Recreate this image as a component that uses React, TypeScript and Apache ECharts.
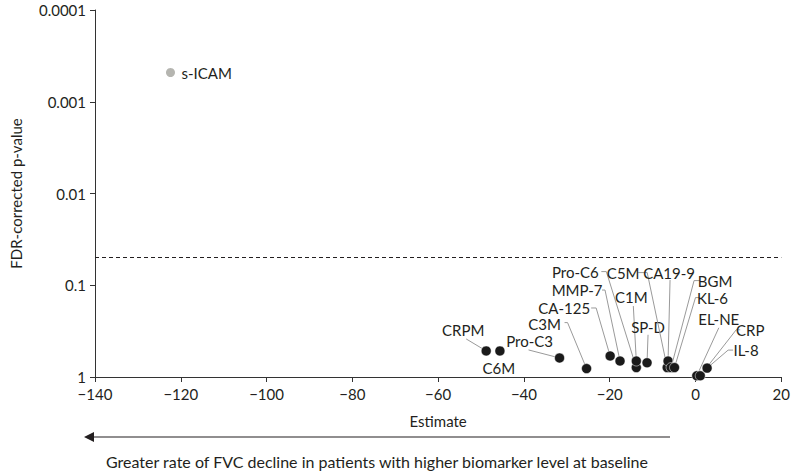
import React, { useEffect, useRef } from "react";
import * as echarts from "echarts";

const biomarkers = ["s-ICAM", "CRPM", "C6M", "Pro-C3", "C3M", "CA-125", "MMP-7", "Pro-C6", "C1M", "SP-D", "C5M", "CA19-9", "BGM", "KL-6", "EL-NE", "CRP", "IL-8"];
const estimates = [-122.4, -48.8, -45.6, -31.7, -25.4, -19.9, -17.6, -13.8, -13.8, -11.3, -6.6, -6.4, -5.7, -4.9, 0.3, 1.1, 2.7];
const pValues = [0.00048, 0.52, 0.52, 0.62, 0.81, 0.59, 0.67, 0.79, 0.67, 0.7, 0.79, 0.67, 0.79, 0.79, 0.97, 0.97, 0.8];
const significance = 0.05;
const xTicks = { min: -140, max: 20, interval: 20 };
const yTickLabels = ["0.0001", "0.001", "0.01", "0.1", "1"];

// label placement: text offset from the point (px) and leader line waypoints (px)
const labelLayout: Record<string, { dx: number; dy: number; align: string; line: number[][] }> = {
  "s-ICAM": { dx: 11, dy: 0, align: "left", line: [] },
  CRPM: { dx: -23, dy: -21, align: "center", line: [[-20, -12]] },
  C6M: { dx: -1, dy: 17, align: "center", line: [] },
  "Pro-C3": { dx: -30, dy: -17, align: "center", line: [[-31, -8]] },
  C3M: { dx: -42, dy: -45, align: "center", line: [[-22, -46], [-19, -46]] },
  "CA-125": { dx: -46, dy: -48, align: "center", line: [[-19, -48], [-14, -48]] },
  "MMP-7": { dx: -43, dy: -71, align: "center", line: [[-18, -71], [-15, -71]] },
  "Pro-C6": { dx: -61, dy: -96, align: "center", line: [[-35, -96], [-30, -96]] },
  C1M: { dx: -5, dy: -64, align: "center", line: [[-3, -55]] },
  "SP-D": { dx: 1, dy: -36, align: "center", line: [[1, -28]] },
  C5M: { dx: -44, dy: -95, align: "center", line: [[-29, -95], [-20, -95]] },
  "CA19-9": { dx: 1, dy: -88, align: "center", line: [[2, -81]] },
  BGM: { dx: 44, dy: -87, align: "center", line: [[29, -87], [23, -87]] },
  "KL-6": { dx: 38, dy: -70, align: "center", line: [[26, -70], [21, -70]] },
  "EL-NE": { dx: 22, dy: -57, align: "center", line: [[22, -48]] },
  CRP: { dx: 50, dy: -46, align: "center", line: [[40, -46], [36, -46]] },
  "IL-8": { dx: 39, dy: -18, align: "center", line: [[26, -18], [21, -18]] },
};

const FONT = "Lato, 'Noto Sans', sans-serif";
const INK = "#231f20";

export default function App() {
  const ref = useRef<HTMLDivElement>(null);
  useEffect(() => {
    document.body.style.margin = "0";
    const chart = echarts.init(ref.current!, null, { renderer: "svg" });
    const data = biomarkers.map((n, i) => [estimates[i], pValues[i], i]);
    chart.setOption({
      animation: false,
      textStyle: { fontFamily: FONT },
      grid: { left: 84, right: 8, top: 10, bottom: 94 },
      xAxis: {
        type: "value",
        min: xTicks.min,
        max: xTicks.max,
        interval: xTicks.interval,
        name: "Estimate",
        nameLocation: "middle",
        nameGap: 36,
        nameTextStyle: { fontSize: 15, color: INK, fontFamily: FONT },
        splitLine: { show: false },
        axisLine: { onZero: false, lineStyle: { color: "#333", width: 1 } },
        axisTick: { show: true, length: 5, lineStyle: { color: "#333" } },
        axisLabel: {
          fontSize: 15,
          color: INK,
          margin: 9,
          fontFamily: FONT,
          formatter: (v: number) => (v < 0 ? "\u2212" + Math.abs(v) : String(v)),
        },
      },
      yAxis: {
        type: "log",
        logBase: 10,
        min: 0.0001,
        max: 1,
        inverse: true,
        name: "FDR-corrected p-value",
        nameLocation: "middle",
        nameGap: 72,
        nameTextStyle: { fontSize: 15, color: INK, fontFamily: FONT },
        splitLine: { show: false },
        axisLine: { show: true, onZero: false, lineStyle: { color: "#333", width: 1 } },
        axisTick: { show: true, length: 5, lineStyle: { color: "#333" } },
        axisLabel: {
          fontSize: 15,
          color: INK,
          margin: 9,
          fontFamily: FONT,
          formatter: (v: number) => yTickLabels[Math.round(Math.log10(v)) + 4] ?? "",
        },
      },
      series: [
        {
          type: "scatter",
          data: [],
          silent: true,
          markLine: {
            symbol: "none",
            silent: true,
            label: { show: false },
            lineStyle: { type: [4, 3], color: INK, width: 1 },
            data: [{ yAxis: significance }],
          },
        },
        {
          type: "custom",
          data,
          clip: false,
          renderItem: (params: any, api: any) => {
            const i = api.value(2);
            const name = biomarkers[i];
            const pt = api.coord([api.value(0), api.value(1)]);
            const lay = labelLayout[name];
            const children: any[] = [];
            if (lay.line.length) {
              const pts = lay.line.map((d) => [pt[0] + d[0], pt[1] + d[1]]);
              pts.push([pt[0], pt[1]]);
              children.push({
                type: "polyline",
                shape: { points: pts },
                style: { stroke: "#9a9a9a", lineWidth: 1, fill: null },
              });
            }
            children.push({
              type: "circle",
              shape: { cx: pt[0], cy: pt[1], r: i === 0 ? 4.5 : 5 },
              style: { fill: i === 0 ? "#b5b5b0" : "#1a1a1a", stroke: i === 0 ? null : "#ffffff", lineWidth: i === 0 ? 0 : 0.5 },
            });
            children.push({
              type: "text",
              x: pt[0] + lay.dx,
              y: pt[1] + lay.dy,
              style: {
                text: name,
                fill: INK,
                fontSize: 15,
                fontFamily: FONT,
                align: lay.align,
                verticalAlign: "middle",
              },
            });
            return { type: "group", children };
          },
        },
      ],
      graphic: [
        {
          type: "line",
          shape: { x1: 92, y1: 437, x2: 670, y2: 437 },
          style: { stroke: INK, lineWidth: 1.2 },
        },
        {
          type: "polygon",
          shape: { points: [[84, 437], [94, 432], [94, 442]] },
          style: { fill: INK },
        },
        {
          type: "text",
          x: 377,
          y: 461,
          style: {
            text: "Greater rate of FVC decline in patients with higher biomarker level at baseline",
            fill: INK,
            fontSize: 16,
            fontFamily: FONT,
            align: "center",
            verticalAlign: "middle",
          },
        },
      ],
    });
    return () => chart.dispose();
  }, []);
  return <div ref={ref} style={{ width: 793, height: 471 }} />;
}
